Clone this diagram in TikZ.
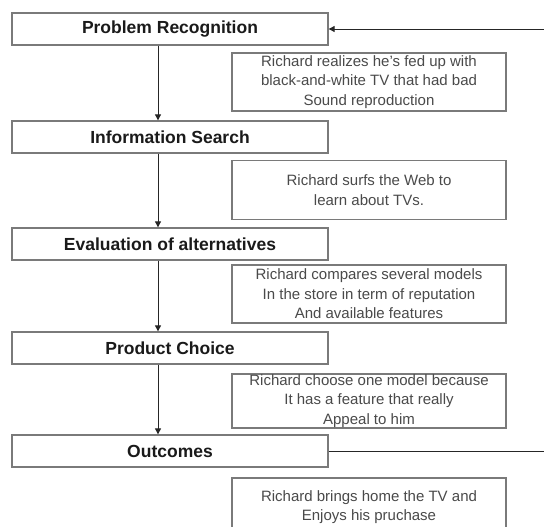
\documentclass[tikz,border=0pt]{standalone}
\usepackage{fontspec}
\setmainfont{Liberation Sans}
\usetikzlibrary{arrows.meta}
\definecolor{boxgray}{HTML}{7A7A7A}
\definecolor{sidetext}{HTML}{4A4A4A}
\definecolor{maintext}{HTML}{1A1A1A}
\tikzset{
  mainbox/.style={draw=boxgray, line width=1.3pt, fill=white, minimum width=316pt, minimum height=32pt, inner sep=0pt, text=maintext, font=\bfseries\fontsize{17.5}{20}\selectfont},
  sidebox/.style={draw=boxgray, line width=1.3pt, fill=white, minimum width=274pt, inner sep=0pt, align=center, text=sidetext, font=\fontsize{15}{19.5}\selectfont},
  flowarr/.style={draw=black!85, line width=0.9pt, -{Triangle[length=6pt,width=6pt]}},
  flowline/.style={draw=black!85, line width=0.9pt}
}
\begin{document}
\begin{tikzpicture}[x=1pt,y=-1pt]
\clip (0,0) rectangle (544,527);
\fill[white] (0,0) rectangle (544,527);
% main boxes
\node[mainbox] (p1) at (170,29) {Problem Recognition};
\node[mainbox] (p2) at (170,137) {Information Search};
\node[mainbox] (p3) at (170,244) {Evaluation of alternatives};
\node[mainbox] (p4) at (170,348) {Product Choice};
\node[mainbox] (p5) at (170,451) {Outcomes};
% side boxes
\node[sidebox, minimum height=58pt] (s1) at (369,82) {Richard realizes he's fed up with\\black-and-white TV that had bad\\Sound reproduction};
\node[sidebox, minimum height=59pt] (s2) at (369,190) {Richard surfs the Web to\\learn about TVs.};
\node[sidebox, minimum height=58pt] (s3) at (369,294) {Richard compares several models\\In the store in term of reputation\\And available features};
\node[sidebox, minimum height=54pt] (s4) at (369,401) {Richard choose one model because\\It has a feature that really\\Appeal to him};
\node[sidebox, minimum height=58pt] (s5) at (369,507) {Richard brings home the TV and\\Enjoys his pruchase};
% connectors
\coordinate (xa) at (158,0);
\draw[flowarr] (p1.south -| xa) -- (p2.north -| xa);
\draw[flowarr] (p2.south -| xa) -- (p3.north -| xa);
\draw[flowarr] (p3.south -| xa) -- (p4.north -| xa);
\draw[flowarr] (p4.south -| xa) -- (p5.north -| xa);
\coordinate (r1) at (546,29);
\coordinate (r5) at (546,451);
\draw[flowarr] (r1) -- (p1.east);
\draw[flowline] (p5.east) -- (r5);
\end{tikzpicture}
\end{document}
